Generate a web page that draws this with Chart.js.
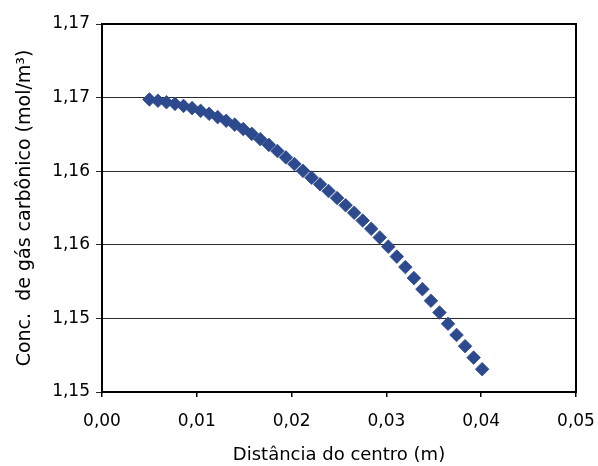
<!DOCTYPE html>
<html>
<head>
<meta charset="utf-8">
<script src="https://cdn.jsdelivr.net/npm/chart.js@4/dist/chart.umd.min.js"></script>
<style>
  html, body { margin: 0; padding: 0; background: #ffffff; }
  #wrap { width: 598px; height: 466px; }
</style>
</head>
<body>
<div id="wrap"><canvas id="chart" width="598" height="466"></canvas></div>
<script>
// Radial position (m) of each computed node
const distance = [
  0.0050, 0.0059, 0.0068, 0.0077, 0.0086, 0.0095, 0.0104, 0.0113, 0.0122, 0.0131,
  0.0140, 0.0149, 0.0158, 0.0167, 0.0176, 0.0185, 0.0194, 0.0203, 0.0212, 0.0221,
  0.0230, 0.0239, 0.0248, 0.0257, 0.0266, 0.0275, 0.0284, 0.0293, 0.0302, 0.0311,
  0.0320, 0.0329, 0.0338, 0.0347, 0.0356, 0.0365, 0.0374, 0.0383, 0.0392, 0.0401
];

// CO2 concentration (mol/m³) at each node
const concentration = [
  1.16590, 1.16583, 1.16575, 1.16566, 1.16555, 1.16543, 1.16528, 1.16512, 1.16494, 1.16474,
  1.16453, 1.16429, 1.16403, 1.16374, 1.16343, 1.16310, 1.16275, 1.16239, 1.16202, 1.16165,
  1.16129, 1.16092, 1.16054, 1.16015, 1.15974, 1.15932, 1.15887, 1.15840, 1.15790, 1.15736,
  1.15679, 1.15619, 1.15559, 1.15496, 1.15432, 1.15371, 1.15310, 1.15249, 1.15187, 1.15124
];

const xTickValues = [0, 0.01, 0.02, 0.03, 0.04, 0.05];
const xTickLabels = ['0,00', '0,01', '0,02', '0,03', '0,04', '0,05'];
const yTickValues = [1.150, 1.154, 1.158, 1.162, 1.166, 1.170];
const yTickLabels = ['1,15', '1,15', '1,16', '1,16', '1,17', '1,17'];

const FONT = "'DejaVu Sans', 'Liberation Sans', Arial, sans-serif";
const MARK = '#2e4a8e';

// Black frame around the plotting area
const plotFrame = {
  id: 'plotFrame',
  beforeDatasetsDraw(chart) {
    const { ctx, chartArea: a } = chart;
    ctx.save();
    ctx.strokeStyle = '#000000';
    ctx.lineWidth = 2;
    ctx.strokeRect(a.left, a.top, a.right - a.left, a.bottom - a.top);
    ctx.restore();
  }
};

new Chart(document.getElementById('chart'), {
  type: 'scatter',
  data: {
    datasets: [{
      data: distance.map((x, i) => ({ x: x, y: concentration[i] })),
      pointStyle: 'rectRot',
      pointRadius: 6.8,
      pointBackgroundColor: MARK,
      pointBorderColor: MARK,
      pointBorderWidth: 0.8,
      showLine: false
    }]
  },
  options: {
    responsive: false,
    animation: false,
    devicePixelRatio: 1,
    layout: { padding: { top: 24, right: 22, bottom: 0, left: 0 } },
    plugins: {
      legend: { display: false },
      tooltip: { enabled: false }
    },
    scales: {
      x: {
        type: 'linear',
        min: 0,
        max: 0.05,
        afterBuildTicks: s => { s.ticks = xTickValues.map(v => ({ value: v })); },
        afterFit: s => { s.height = 74; },
        ticks: {
          callback: (v, i) => xTickLabels[i],
          font: { family: FONT, size: 17, lineHeight: 2.65 },
          color: '#000000',
          padding: 2,
          maxRotation: 0,
          autoSkip: false
        },
        grid: {
          drawOnChartArea: false,
          drawTicks: true,
          tickLength: 5,
          color: '#000000',
          lineWidth: 1.5
        },
        border: { display: true, color: '#000000', width: 2 },
        title: {
          display: true,
          text: 'Distância do centro (m)',
          font: { family: FONT, size: 18 },
          color: '#000000',
          padding: { top: 0, bottom: 0 }
        }
      },
      y: {
        type: 'linear',
        min: 1.150,
        max: 1.170,
        afterBuildTicks: s => { s.ticks = yTickValues.map(v => ({ value: v })); },
        afterFit: s => { s.width = 102; },
        ticks: {
          callback: (v, i) => yTickLabels[i],
          font: { family: FONT, size: 17 },
          color: '#000000',
          padding: 6,
          autoSkip: false
        },
        grid: {
          drawTicks: true,
          tickLength: 6,
          color: '#2a2a2a',
          lineWidth: 1
        },
        border: { display: true, color: '#000000', width: 2 },
        title: {
          display: true,
          text: 'Conc.  de gás carbônico (mol/m³)',
          font: { family: FONT, size: 19 },
          color: '#000000',
          padding: { top: 14, bottom: 0 }
        }
      }
    }
  },
  plugins: [plotFrame]
});
</script>
</body>
</html>
